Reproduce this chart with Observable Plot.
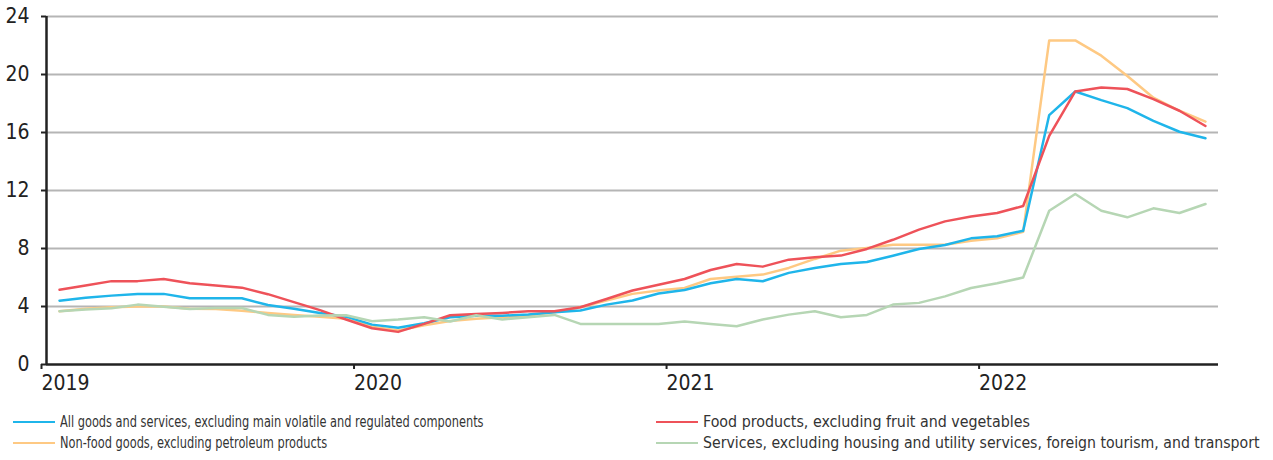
<!DOCTYPE html>
<html>
<head>
<meta charset="utf-8">
<script src="https://cdn.jsdelivr.net/npm/d3@7"></script>
<script src="https://cdn.jsdelivr.net/npm/@observablehq/plot@0.6"></script>
<style>
  html, body { margin: 0; padding: 0; background: #fff; }
  body { width: 1273px; height: 460px; overflow: hidden; font-family: "Liberation Sans Narrow", "DejaVu Sans Condensed", sans-serif; }
  #chart svg { display: block; }
  .legend { position: relative; height: 65px; color: #333; font-size: 16px; }
  .item { position: absolute; display: flex; align-items: center; white-space: nowrap; }
  .swatch { width: 42px; height: 0; border-top: 2.5px solid; margin-right: 5px; flex: none; }
  .label { display: inline-block; transform-origin: 0 50%; }
</style>
</head>
<body>
<div id="chart"></div>
<div class="legend" id="legend"></div>
<script>
// Monthly year-on-year inflation, Jan 2019 – Sep 2022 (%)
const years = ["2019", "2020", "2021", "2022"];

const allGoods = [4.4, 4.6, 4.75, 4.87, 4.87, 4.57, 4.57, 4.57, 4.1, 3.85, 3.55, 3.3,
  2.75, 2.53, 2.85, 3.26, 3.37, 3.37, 3.44, 3.6, 3.72, 4.13, 4.41, 4.9,
  5.14, 5.6, 5.9, 5.74, 6.32, 6.66, 6.93, 7.07, 7.5, 7.97, 8.24, 8.7,
  8.85, 9.23, 17.2, 18.83, 18.23, 17.68, 16.8, 16.05, 15.6];

const foodProducts = [5.15, 5.45, 5.75, 5.75, 5.9, 5.6, 5.45, 5.3, 4.85, 4.3, 3.75, 3.1,
  2.5, 2.25, 2.8, 3.4, 3.48, 3.56, 3.67, 3.67, 3.95, 4.52, 5.1, 5.5,
  5.9, 6.52, 6.93, 6.75, 7.23, 7.39, 7.51, 7.97, 8.6, 9.3, 9.87, 10.2,
  10.45, 10.93, 15.77, 18.83, 19.1, 19.0, 18.3, 17.5, 16.45];

const nonFoodGoods = [3.67, 3.85, 3.95, 4.0, 4.0, 3.85, 3.83, 3.7, 3.55, 3.42, 3.3, 3.15,
  2.6, 2.35, 2.7, 3.0, 3.15, 3.26, 3.37, 3.6, 3.95, 4.41, 4.87, 5.1,
  5.28, 5.9, 6.06, 6.2, 6.66, 7.28, 7.85, 8.04, 8.26, 8.26, 8.26, 8.54,
  8.7, 9.15, 22.35, 22.35, 21.3, 19.9, 18.4, 17.5, 16.75];

const services = [3.67, 3.8, 3.88, 4.13, 3.98, 3.83, 3.9, 3.9, 3.42, 3.3, 3.38, 3.4,
  2.98, 3.1, 3.26, 2.96, 3.4, 3.1, 3.26, 3.42, 2.8, 2.8, 2.8, 2.8,
  2.96, 2.8, 2.64, 3.1, 3.44, 3.67, 3.26, 3.42, 4.13, 4.25, 4.7, 5.28,
  5.6, 6.0, 10.6, 11.76, 10.6, 10.15, 10.77, 10.45, 11.07];

const seriesNames = [
  "All goods and services, excluding main volatile and regulated components",
  "Food products, excluding fruit and vegetables",
  "Non-food goods, excluding petroleum products",
  "Services, excluding housing and utility services, foreign tourism, and transport"
];
const seriesColors = ["#1fb5ea", "#ee5259", "#fec983", "#b6d6b4"];

const yTicks = [0, 4, 8, 12, 16, 20, 24];

// each monthly value sits in the middle of its month
const toPoints = (values) => values.map((v, i) => ({ m: i + 0.5, v }));

const lineOpts = (color) => ({ x: "m", y: "v", stroke: color, strokeWidth: 2.5, curve: "linear" });

const chart = Plot.plot({
  width: 1273,
  height: 395,
  marginLeft: 46,
  marginRight: 55,
  marginTop: 16,
  marginBottom: 31,
  style: { fontFamily: "'Liberation Sans Narrow', 'DejaVu Sans Condensed', sans-serif", fontSize: "21px", color: "#222", background: "#fff" },
  x: { type: "linear", domain: [0, 45] },
  y: { domain: [0, 24] },
  marks: [
    Plot.gridY(yTicks.filter(d => d > 0), { stroke: "#b5b5b5", strokeOpacity: 1, strokeWidth: 2 }),
    Plot.lineY(toPoints(nonFoodGoods), lineOpts(seriesColors[2])),
    Plot.lineY(toPoints(allGoods), lineOpts(seriesColors[0])),
    Plot.lineY(toPoints(foodProducts), lineOpts(seriesColors[1])),
    Plot.lineY(toPoints(services), lineOpts(seriesColors[3])),
    Plot.ruleY([0], { stroke: "#222", strokeWidth: 2.5 }),
    Plot.ruleX([0], { stroke: "#222", strokeWidth: 2.5 }),
    Plot.axisY(yTicks, { tickSize: 5, tickPadding: 12, stroke: "#222", strokeWidth: 2, fill: "#222", fontSize: 21, label: null }),
    Plot.axisX(years.map((_, i) => i * 12), {
      tickSize: 5, tickPadding: 6, stroke: "#222", strokeWidth: 2, fill: "#222", fontSize: 21,
      tickFormat: (d) => years[d / 12], textAnchor: "start", dx: -5, label: null
    })
  ]
});
document.getElementById("chart").appendChild(chart);

// legend: two columns, two rows; the right column is set a little wider
const legend = document.getElementById("legend");
const slots = [
  { idx: 0, left: 13, top: 27, squeeze: 0.79 },
  { idx: 1, left: 656, top: 27, squeeze: 0.99 },
  { idx: 2, left: 13, top: 48, squeeze: 0.79 },
  { idx: 3, left: 656, top: 48, squeeze: 0.98 }
];
for (const s of slots) {
  const item = document.createElement("div");
  item.className = "item";
  item.style.left = s.left + "px";
  item.style.top = (s.top - 10) + "px";
  const sw = document.createElement("span");
  sw.className = "swatch";
  sw.style.borderTopColor = seriesColors[s.idx];
  const label = document.createElement("span");
  label.className = "label";
  label.style.transform = `scaleX(${s.squeeze})`;
  label.textContent = seriesNames[s.idx];
  item.appendChild(sw);
  item.appendChild(label);
  legend.appendChild(item);
}
</script>
</body>
</html>
